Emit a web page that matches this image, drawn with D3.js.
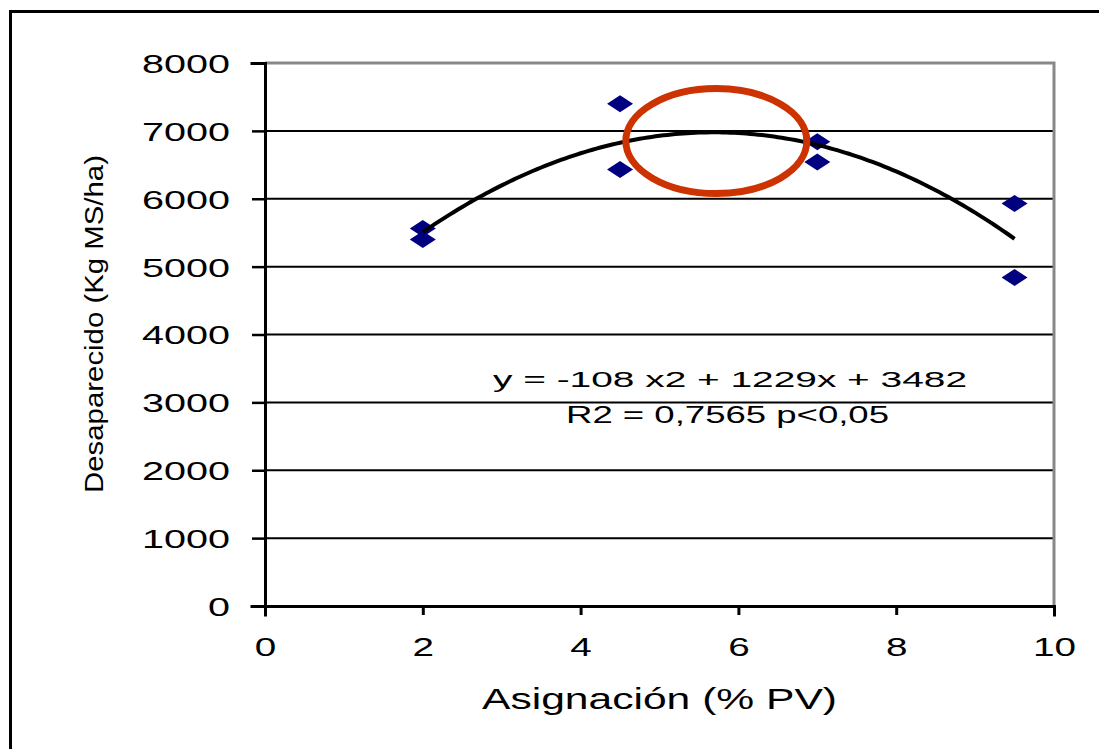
<!DOCTYPE html>
<html>
<head>
<meta charset="utf-8">
<script src="https://cdn.jsdelivr.net/npm/d3@7"></script>
<style>
  html, body { margin: 0; padding: 0; background: #fff; }
  svg { display: block; }
  text { font-family: "Liberation Sans", Arial, sans-serif; fill: #000; }
</style>
</head>
<body>
<svg id="chart" width="1099" height="749"></svg>
<script>
// Forage allowance vs. disappeared dry matter
const asignacion   = [2, 2, 4.5, 4.5, 7, 7, 9.5, 9.5];
const desaparecido = [5560, 5400, 7400, 6430, 6840, 6540, 5930, 4840];

// Quadratic fit reported on the chart: y = a x^2 + b x + c
const trendCoef  = [-108, 1229, 3482];
const trendRange = [2, 9.5];

const xTicks = [0, 2, 4, 6, 8, 10];
const yTicks = [0, 1000, 2000, 3000, 4000, 5000, 6000, 7000, 8000];

const xTitle = "Asignación (% PV)";
const yTitle = "Desaparecido (Kg MS/ha)";
const eqLine1 = "y = -108 x2 + 1229x + 3482";
const eqLine2 = "R2 = 0,7565 p<0,05";

// highlighted optimum zone (centre and radii in data units)
const zoneCenter = [5.72, 6850];
const zoneRadii  = [1.147, 773];

const svg = d3.select("#chart");
const plot = { left: 265, right: 1054, top: 63, bottom: 606 };

const x = d3.scaleLinear().domain([0, 10]).range([plot.left, plot.right]);
const y = d3.scaleLinear().domain([0, 8000]).range([plot.bottom, plot.top]);

// outer frame
svg.append("rect")
  .attr("x", 10.5).attr("y", 11.5)
  .attr("width", 1100).attr("height", 760)
  .attr("fill", "none").attr("stroke", "#000").attr("stroke-width", 3);

// horizontal gridlines
svg.append("g").selectAll("line")
  .data(yTicks.filter(v => v > 0 && v < 8000))
  .join("line")
  .attr("x1", plot.left).attr("x2", plot.right)
  .attr("y1", d => y(d)).attr("y2", d => y(d))
  .attr("stroke", "#000").attr("stroke-width", 2);

// plot frame, top and right sides in grey
svg.append("path")
  .attr("d", `M${plot.left},${plot.top}H${plot.right}V${plot.bottom}`)
  .attr("fill", "none").attr("stroke", "#888").attr("stroke-width", 3);

// Y axis
const yAxis = svg.append("g")
  .attr("transform", `translate(${plot.left},0)`)
  .call(d3.axisLeft(y).tickValues(yTicks).tickSize(13).tickPadding(22).tickFormat(d3.format("d")));
yAxis.select(".domain").attr("stroke", "#000").attr("stroke-width", 3);
yAxis.selectAll(".tick line").attr("stroke", "#000").attr("stroke-width", 2.5);
yAxis.selectAll(".tick text")
  .attr("font-size", 26).attr("dy", "0.36em")
  .attr("font-family", "Liberation Sans, Arial, sans-serif")
  .attr("textLength", d => String(d).length * 22)
  .attr("lengthAdjust", "spacingAndGlyphs");

// X axis
const xAxis = svg.append("g")
  .attr("transform", `translate(0,${plot.bottom})`)
  .call(d3.axisBottom(x).tickValues(xTicks).tickSize(9).tickPadding(23).tickFormat(d3.format("d")));
xAxis.select(".domain").attr("stroke", "#000").attr("stroke-width", 3);
xAxis.selectAll(".tick line").attr("stroke", "#000").attr("stroke-width", 3);
xAxis.selectAll(".tick text")
  .attr("font-size", 26)
  .attr("font-family", "Liberation Sans, Arial, sans-serif")
  .attr("textLength", d => String(d).length * 21.5)
  .attr("lengthAdjust", "spacingAndGlyphs");
svg.selectAll(".domain").attr("stroke-linecap", "square");

// observations as navy diamonds
const diamond = "M-13,0L0,-8.5L13,0L0,8.5Z";
svg.append("g").selectAll("path")
  .data(asignacion.map((a, i) => [a, desaparecido[i]]))
  .join("path")
  .attr("d", diamond)
  .attr("transform", d => `translate(${x(d[0])},${y(d[1])})`)
  .attr("fill", "#000080");

// fitted quadratic trend line
const [a, b, c] = trendCoef;
const trendX = d3.range(trendRange[0], trendRange[1] + 1e-9, 0.05);
svg.append("path")
  .datum(trendX.map(v => [v, a * v * v + b * v + c]))
  .attr("d", d3.line().x(d => x(d[0])).y(d => y(d[1])))
  .attr("fill", "none").attr("stroke", "#000").attr("stroke-width", 4)
  .attr("stroke-linejoin", "round");

// optimum zone ellipse
svg.append("ellipse")
  .attr("cx", x(zoneCenter[0])).attr("cy", y(zoneCenter[1]))
  .attr("rx", x(zoneRadii[0]) - x(0)).attr("ry", y(0) - y(zoneRadii[1]))
  .attr("fill", "none").attr("stroke", "#CC3300").attr("stroke-width", 7);

// regression equation
svg.append("text")
  .attr("x", 493).attr("y", 387)
  .attr("font-size", 22.5)
  .attr("textLength", 474).attr("lengthAdjust", "spacingAndGlyphs")
  .text(eqLine1);
svg.append("text")
  .attr("x", 566).attr("y", 423)
  .attr("font-size", 23)
  .attr("textLength", 323).attr("lengthAdjust", "spacingAndGlyphs")
  .text(eqLine2);

// axis titles
svg.append("text")
  .attr("x", 482).attr("y", 709)
  .attr("font-size", 29)
  .attr("textLength", 355).attr("lengthAdjust", "spacingAndGlyphs")
  .text(xTitle);
svg.append("text")
  .attr("transform", "translate(103,324) rotate(-90)")
  .attr("text-anchor", "middle")
  .attr("font-size", 25)
  .attr("textLength", 338).attr("lengthAdjust", "spacingAndGlyphs")
  .text(yTitle);
</script>
</body>
</html>
